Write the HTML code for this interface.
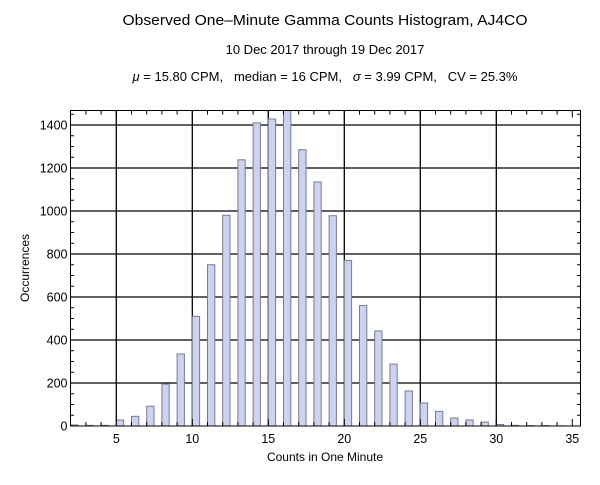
<!DOCTYPE html>
<html><head><meta charset="utf-8"><style>
html,body{margin:0;padding:0;background:#fff;}
svg{display:block;font-family:"Liberation Sans",Arial,sans-serif;}
.pre{white-space:pre;}
</style></head><body>
<svg id="s" width="600" height="485" viewBox="0 0 600 485" xmlns="http://www.w3.org/2000/svg">
<rect width="600" height="485" fill="#fff"/>
<text x="325" y="25" font-size="14.5" text-anchor="middle" textLength="405" lengthAdjust="spacingAndGlyphs">Observed One–Minute Gamma Counts Histogram, AJ4CO</text>
<text x="325" y="54" font-size="13" text-anchor="middle">10 Dec 2017 through 19 Dec 2017</text>
<text class="pre" x="325" y="81" font-size="13" text-anchor="middle" xml:space="preserve"><tspan font-style="italic">μ</tspan> = 15.80 CPM,   median = 16 CPM,   <tspan font-style="italic">σ</tspan> = 3.99 CPM,   CV = 25.3%</text>
<g id="grid" stroke="#000" stroke-width="1.3"></g>
<g id="bars" fill="#ccd3f2" stroke="#7a7a8e" stroke-width="1"></g>
<g id="ticks" stroke="#000" stroke-width="1"></g>
<rect x="70.5" y="110.5" width="510" height="315.5" fill="none" stroke="#000" stroke-width="1"/>
<g id="lbl" font-size="12.5"></g>
<text x="325" y="461" font-size="12" text-anchor="middle">Counts in One Minute</text>
<text transform="translate(29,268) rotate(-90)" font-size="12" text-anchor="middle">Occurrences</text>
</svg>
<script>
var NS="http://www.w3.org/2000/svg";
function el(p,t,a,txt){var e=document.createElementNS(NS,t);for(var k in a)e.setAttribute(k,a[k]);if(txt!=null)e.textContent=txt;document.getElementById(p).appendChild(e);}
var L=70.5,R=580.5,T=110.5,B=426;
function X(k){return 40.3+15.2*k;}
function Y(v){return B-0.215*v;}
for(var k=5;k<=30;k+=5)el("grid","line",{x1:X(k),x2:X(k),y1:T,y2:B});
for(var v=200;v<=1400;v+=200)el("grid","line",{x1:L,x2:R,y1:Y(v),y2:Y(v)});
var d={2:5,3:3,4:3,5:28,6:45,7:92,8:195,9:335,10:510,11:750,12:980,13:1238,14:1410,15:1428,16:1500,17:1285,18:1135,19:978,20:770,21:560,22:442,23:288,24:163,25:107,26:68,27:37,28:28,29:18,30:7,31:3,32:2,33:2,34:1};
for(var k in d){var y=Math.max(Y(d[k]),T);el("bars","rect",{x:X(+k),y:y,width:7.3,height:B-y});}
for(var k=3;k<=35;k++){var len=(k%5==0)?7:4;
el("ticks","line",{x1:X(k),x2:X(k),y1:B,y2:B-len});el("ticks","line",{x1:X(k),x2:X(k),y1:T,y2:T+len});
if(k%5==0)el("lbl","text",{x:X(k),y:B+17,"text-anchor":"middle"},String(k));}
for(var v=0;v<=1450;v+=50){var len=(v%200==0)?7:3.5;
el("ticks","line",{x1:L,x2:L+len,y1:Y(v),y2:Y(v)});el("ticks","line",{x1:R,x2:R-len,y1:Y(v),y2:Y(v)});
if(v%200==0)el("lbl","text",{x:L-3,y:Y(v)+4.5,"text-anchor":"end"},String(v));}
</script>
</body></html>
